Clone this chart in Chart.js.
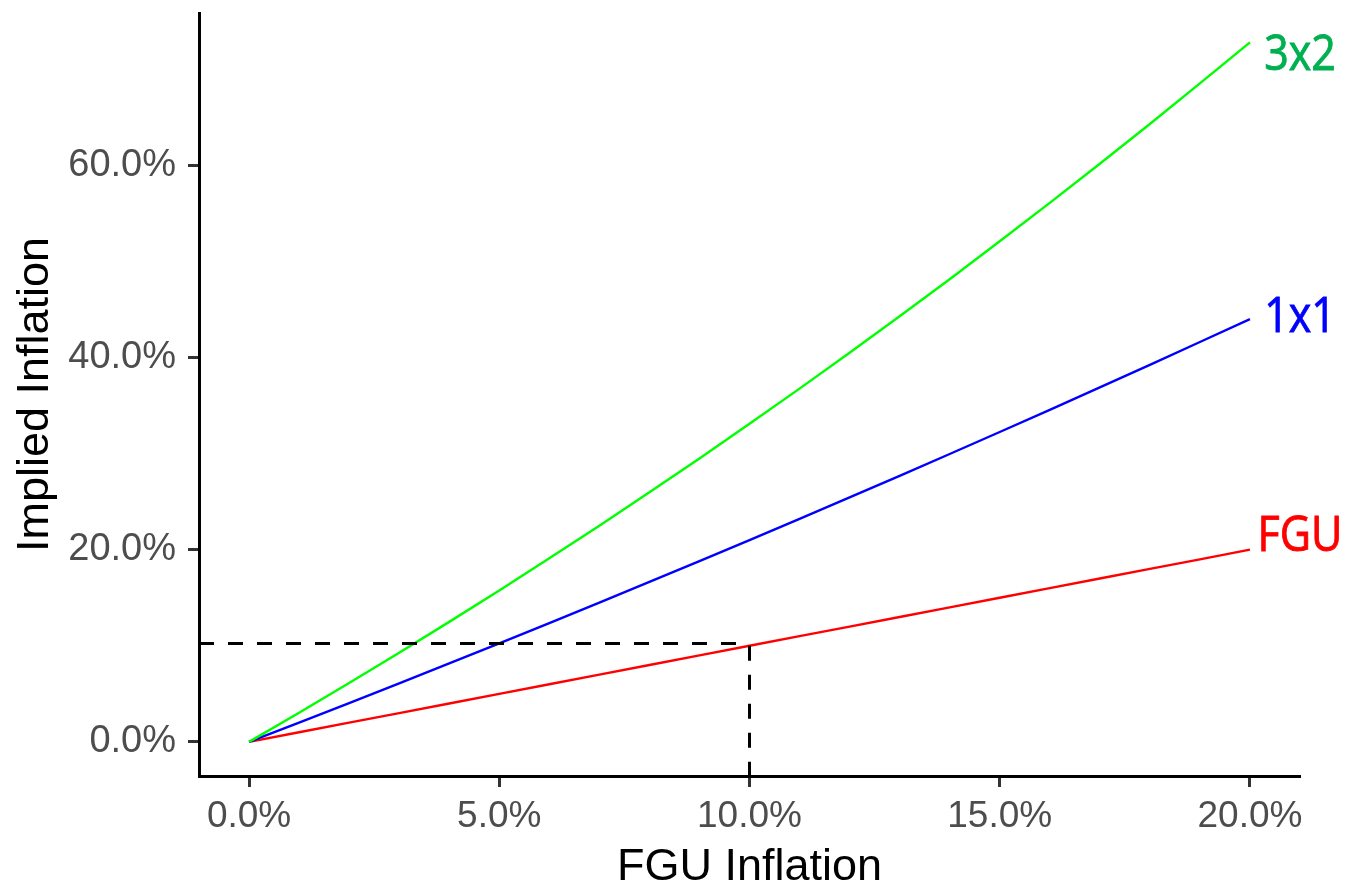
<!DOCTYPE html>
<html>
<head>
<meta charset="utf-8">
<script src="https://cdn.jsdelivr.net/npm/chart.js@4.4.1/dist/chart.umd.min.js"></script>
<style>
  html, body { margin: 0; padding: 0; background: #ffffff; }
  #wrap { width: 1352px; height: 890px; position: relative; }
</style>
</head>
<body>
<div id="wrap"><canvas id="chart" width="1352" height="890"></canvas></div>
<script>
// FGU inflation (percent) on the horizontal axis
const fguInflation = [0, 1, 2, 3, 4, 5, 6, 7, 8, 9, 10, 11, 12, 13, 14, 15, 16, 17, 18, 19, 20];

// Implied inflation (percent) for each layer structure
const fguSeries = [0, 1, 2, 3, 4, 5, 6, 7, 8, 9, 10, 11, 12, 13, 14, 15, 16, 17, 18, 19, 20];
const layer1x1 = [0, 2.01, 4.04, 6.09, 8.16, 10.25, 12.36, 14.49, 16.64, 18.81, 21.0,
                  23.21, 25.44, 27.69, 29.96, 32.25, 34.56, 36.89, 39.24, 41.61, 44.0];
const layer3x2 = [0, 3.03, 6.12, 9.27, 12.49, 15.76, 19.10, 22.50, 25.97, 29.50, 33.10,
                  36.76, 40.49, 44.29, 48.15, 52.09, 56.09, 60.16, 64.30, 68.52, 72.80];

// Reference guide: FGU at 10% and the 1x1 value at 5%
const guideX = 10;
const guideFguY = 10;
const guideLevel = 10.25;

// Axis ticks and their labels
const xTicks = [0, 5, 10, 15, 20];
const xTickLabels = ['0.0%', '5.0%', '10.0%', '15.0%', '20.0%'];
const yTicks = [0, 20, 40, 60];
const yTickLabels = ['0.0%', '20.0%', '40.0%', '60.0%'];

// Series names written at the end of each line
const seriesNames = ['3x2', '1x1', 'FGU'];
const seriesNameX = [21, 21, 21];
const seriesNameY = [71.4, 44.1, 21.3];
const seriesNameColors = ['#00b050', '#0000ff', '#ff0000'];

const xMin = -1, xMax = 21;
const yMin = -3.55, yMax = 75.85;

const toPoints = (xs, ys) => xs.map((x, i) => ({ x: x, y: ys[i] }));

const endLabels = {
  id: 'endLabels',
  afterDatasetsDraw(chart) {
    const { ctx, scales: { x, y } } = chart;
    ctx.save();
    ctx.font = '43px "Open Sans", "Noto Sans", sans-serif';
    ctx.textAlign = 'center';
    ctx.textBaseline = 'middle';
    seriesNames.forEach((name, i) => {
      const px = x.getPixelForValue(seriesNameX[i]);
      const py = y.getPixelForValue(seriesNameY[i]);
      ctx.save();
      ctx.translate(px, py);
      ctx.scale(1, 1.14);
      ctx.fillStyle = seriesNameColors[i];
      ctx.strokeStyle = seriesNameColors[i];
      ctx.lineWidth = 0.8;
      ctx.fillText(name, 0, 0);
      ctx.strokeText(name, 0, 0);
      ctx.restore();
    });
    ctx.restore();
  }
};

const dashed = {
  borderColor: '#000000',
  borderWidth: 3,
  borderDash: [15, 14],
  pointRadius: 0,
  fill: false,
  tension: 0
};

const lineStyle = (color) => ({
  borderColor: color,
  borderWidth: 2.4,
  pointRadius: 0,
  tension: 0
});

new Chart(document.getElementById('chart'), {
  type: 'line',
  data: {
    datasets: [
      Object.assign({
        label: 'guide-h',
        data: [{ x: xMin, y: guideLevel }, { x: guideX, y: guideLevel }],
        order: 0
      }, dashed),
      Object.assign({
        label: 'guide-v',
        data: [{ x: guideX, y: guideFguY }, { x: guideX, y: yMin }],
        order: 0
      }, dashed),
      Object.assign({ label: 'FGU', data: toPoints(fguInflation, fguSeries), order: 3 }, lineStyle('#ff0000')),
      Object.assign({ label: '1x1', data: toPoints(fguInflation, layer1x1), order: 2 }, lineStyle('#0000ff')),
      Object.assign({ label: '3x2', data: toPoints(fguInflation, layer3x2), order: 1 }, lineStyle('#00ff00'))
    ]
  },
  options: {
    responsive: false,
    animation: false,
    events: [],
    layout: { padding: { top: 13, right: 52, left: 0, bottom: 0 } },
    plugins: {
      legend: { display: false },
      tooltip: { enabled: false }
    },
    scales: {
      x: {
        type: 'linear',
        min: xMin,
        max: xMax,
        afterBuildTicks: (s) => { s.ticks = xTicks.map(v => ({ value: v })); },
        afterFit: (s) => { s.height = 114; s.paddingLeft = 0; s.paddingRight = 0; },
        ticks: {
          autoSkip: false,
          maxRotation: 0,
          padding: 8,
          color: '#4d4d4d',
          font: { family: '"Liberation Sans", Arial, sans-serif', size: 37 },
          callback: (v) => xTickLabels[xTicks.indexOf(v)]
        },
        grid: {
          drawOnChartArea: false,
          drawTicks: true,
          tickLength: 11,
          tickColor: '#333333',
          tickWidth: 3
        },
        border: { display: true, color: '#000000', width: 3 },
        title: {
          display: true,
          text: 'FGU Inflation',
          color: '#000000',
          font: { family: '"Liberation Sans", Arial, sans-serif', size: 45, lineHeight: 1 },
          padding: { top: 0, bottom: 0 }
        }
      },
      y: {
        type: 'linear',
        min: yMin,
        max: yMax,
        afterBuildTicks: (s) => { s.ticks = yTicks.map(v => ({ value: v })); },
        afterFit: (s) => { s.width = 199; s.paddingTop = 0; s.paddingBottom = 0; },
        ticks: {
          autoSkip: false,
          padding: 12,
          color: '#4d4d4d',
          font: { family: '"Liberation Sans", Arial, sans-serif', size: 38 },
          callback: (v) => yTickLabels[yTicks.indexOf(v)]
        },
        grid: {
          drawOnChartArea: false,
          drawTicks: true,
          tickLength: 11,
          tickColor: '#333333',
          tickWidth: 3
        },
        border: { display: true, color: '#000000', width: 3 },
        title: {
          display: true,
          text: 'Implied Inflation',
          color: '#000000',
          font: { family: '"Liberation Sans", Arial, sans-serif', size: 45, lineHeight: 1 },
          padding: { top: 13, bottom: 0 }
        }
      }
    }
  },
  plugins: [endLabels]
});
</script>
</body>
</html>
